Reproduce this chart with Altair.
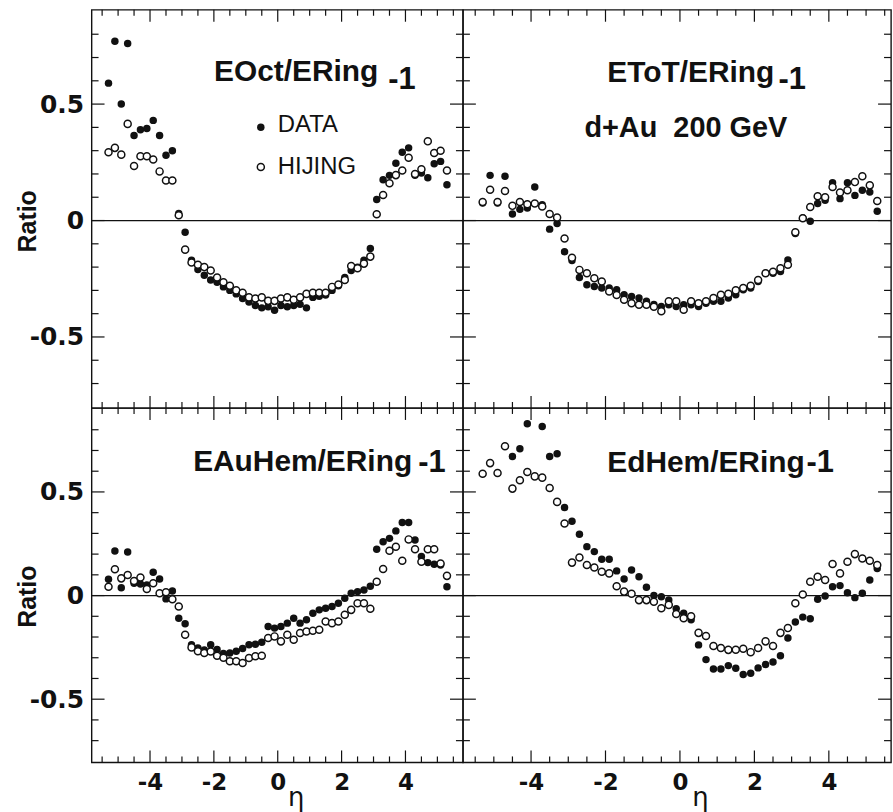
import altair as alt
import pandas as pd

# Pseudorapidity bin centres shared by all four ratio panels
ETA = [-5.3, -5.1, -4.9, -4.7, -4.5, -4.3, -4.1, -3.9, -3.7, -3.5, -3.3, -3.1, -2.9,
       -2.7, -2.5, -2.3, -2.1, -1.9, -1.7, -1.5, -1.3, -1.1, -0.9, -0.7, -0.5, -0.3, -0.1,
       0.1, 0.3, 0.5, 0.7, 0.9, 1.1, 1.3, 1.5, 1.7, 1.9, 2.1, 2.3, 2.5, 2.7, 2.9,
       3.1, 3.3, 3.5, 3.7, 3.9, 4.1, 4.3, 4.5, 4.7, 4.9, 5.1, 5.3]

# EOct/ERing - 1
EOCT_DATA = [0.59, 0.77, 0.50, 0.76, 0.365, 0.39, 0.395, 0.43, 0.365, 0.28, 0.30, 0.03, -0.05,
             -0.17, -0.21, -0.235, -0.255, -0.265, -0.285, -0.30, -0.315, -0.335, -0.35, -0.365, -0.375, -0.37, -0.385,
             -0.365, -0.37, -0.365, -0.36, -0.375, -0.33, -0.325, -0.32, -0.30, -0.28, -0.245, -0.215, -0.20, -0.17, -0.12,
             0.09, 0.175, 0.194, 0.246, 0.293, 0.312, 0.194, 0.204, 0.184, 0.244, 0.254, 0.154]
EOCT_HIJING = [0.293, 0.312, 0.283, 0.415, 0.234, 0.276, 0.276, 0.262, 0.211, 0.172, 0.172, 0.023, -0.125,
               -0.18, -0.19, -0.20, -0.215, -0.245, -0.265, -0.28, -0.30, -0.31, -0.33, -0.335, -0.33, -0.345, -0.345,
               -0.335, -0.33, -0.34, -0.33, -0.315, -0.31, -0.31, -0.31, -0.285, -0.275, -0.255, -0.195, -0.205, -0.185, -0.155,
               0.027, 0.11, 0.16, 0.195, 0.215, 0.27, 0.20, 0.22, 0.34, 0.29, 0.30, 0.215]

# EToT/ERing - 1
ETOT_DATA = [0.075, 0.194, 0.075, 0.19, 0.028, 0.048, 0.054, 0.144, 0.068, -0.037, -0.013, -0.134, -0.172,
             -0.245, -0.276, -0.283, -0.29, -0.29, -0.297, -0.319, -0.326, -0.333, -0.347, -0.36, -0.369, -0.362, -0.369,
             -0.362, -0.362, -0.369, -0.355, -0.347, -0.347, -0.333, -0.319, -0.297, -0.29, -0.262, -0.226, -0.226, -0.219, -0.169,
             -0.056, 0.011, -0.003, 0.073, 0.087, 0.162, 0.094, 0.162, 0.108, 0.13, 0.122, 0.04]
ETOT_HIJING = [0.08, 0.132, 0.08, 0.127, 0.063, 0.08, 0.07, 0.073, 0.06, 0.028, 0.013, -0.077, -0.16,
               -0.212, -0.226, -0.248, -0.262, -0.305, -0.32, -0.34, -0.355, -0.362, -0.362, -0.37, -0.39, -0.347, -0.347,
               -0.383, -0.347, -0.355, -0.347, -0.333, -0.319, -0.315, -0.30, -0.29, -0.28, -0.255, -0.226, -0.22, -0.205, -0.19,
               -0.05, 0.01, 0.058, 0.104, 0.10, 0.144, 0.12, 0.13, 0.165, 0.19, 0.151, 0.084]

# EAuHem/ERing - 1
EAU_DATA = [0.079, 0.215, 0.038, 0.21, 0.059, 0.056, 0.051, 0.112, 0.08, -0.016, 0.022, -0.109, -0.136,
            -0.237, -0.253, -0.262, -0.237, -0.26, -0.28, -0.277, -0.269, -0.255, -0.237, -0.235, -0.225, -0.149, -0.157,
            -0.149, -0.133, -0.109, -0.133, -0.117, -0.085, -0.069, -0.061, -0.053, -0.037, -0.013, 0.011, 0.019, 0.027, 0.045,
            0.223, 0.26, 0.276, 0.312, 0.353, 0.353, 0.268, 0.188, 0.159, 0.151, 0.147, 0.043]
EAU_HIJING = [0.043, 0.127, 0.083, 0.099, 0.07, 0.087, 0.032, 0.059, 0.011, 0.016, -0.018, -0.053, -0.189,
              -0.25, -0.269, -0.277, -0.27, -0.29, -0.30, -0.317, -0.317, -0.325, -0.301, -0.293, -0.29, -0.205, -0.197,
              -0.221, -0.189, -0.213, -0.181, -0.173, -0.17, -0.165, -0.125, -0.133, -0.125, -0.093, -0.069, -0.037, -0.037, -0.064,
              0.067, 0.128, 0.216, 0.236, 0.168, 0.271, 0.223, 0.163, 0.223, 0.223, 0.155, 0.095]

# EdHem/ERing - 1 (None: point above the plotted range)
ED_DATA = [None, None, None, None, 0.671, 0.708, 0.829, None, 0.816, 0.671, 0.684, 0.425, 0.359,
           0.296, 0.236, 0.212, 0.175, 0.175, 0.119, 0.08, 0.123, 0.091, 0.04, 0.0, -0.006, -0.021, -0.063,
           -0.085, -0.117, -0.238, -0.309, -0.354, -0.354, -0.338, -0.351, -0.381, -0.375, -0.349, -0.333, -0.321, -0.29, -0.205,
           -0.128, -0.104, -0.112, -0.018, -0.002, 0.043, 0.048, 0.014, -0.01, 0.011, 0.075, 0.131]
ED_HIJING = [0.588, 0.639, 0.591, 0.72, 0.516, 0.556, 0.596, 0.575, 0.569, 0.519, 0.452, 0.348, 0.159,
             0.184, 0.147, 0.135, 0.115, 0.107, 0.045, 0.019, 0.009, -0.022, -0.022, -0.03, -0.061, -0.045, -0.089,
             -0.109, -0.10, -0.18, -0.195, -0.243, -0.253, -0.262, -0.261, -0.257, -0.273, -0.253, -0.221, -0.243, -0.18, -0.157,
             -0.037, 0.005, 0.067, 0.091, 0.075, 0.152, 0.107, 0.163, 0.20, 0.179, 0.168, 0.147]

# Axis ticks
X_MAJOR = [-4, -2, 0, 2, 4]
X_MINOR = [-5.5, -5, -4.5, -3.5, -3, -2.5, -1.5, -1, -0.5, 0.5, 1, 1.5, 2.5, 3, 3.5, 4.5, 5, 5.5]
Y_MAJOR = [-0.5, 0, 0.5]
Y_MINOR = [-0.7, -0.6, -0.4, -0.3, -0.2, -0.1, 0.1, 0.2, 0.3, 0.4, 0.6, 0.7, 0.8]

X_DOMAIN_LEFT = [-5.83, 5.8]
X_DOMAIN_RIGHT = [-5.83, 5.67]
Y_DOMAIN = [-0.805, 0.905]

LEFT_W, RIGHT_W = 373, 430
TOP_H, BOTTOM_H = 400, 356

INK = "#111111"
LABEL_FONT = "Liberation Sans"
TICK_FONT = "DejaVu Sans"

DOT_SIZE = 56
RING_SIZE = 50
RING_WIDTH = 1.5


def make_x_axis(eta_x):
    return alt.Axis(
        values=X_MAJOR,
        labelExpr="datum.value < 0 ? '-' + format(-datum.value, 'd') : format(datum.value, 'd')",
        ticks=False, tickSize=0, domain=False, grid=False,
        labelFont=TICK_FONT, labelFontWeight="bold", labelFontSize=23, labelColor=INK,
        labelBaseline="alphabetic", labelPadding=27,
        title="η", titleFont=TICK_FONT, titleFontWeight="normal", titleFontSize=26,
        titleColor=INK, titleX=eta_x, titleY=43, titleAlign="center",
        titleBaseline="alphabetic", titleAnchor="start",
    )


def make_y_axis(ratio_y):
    return alt.Axis(
        values=Y_MAJOR,
        labelExpr="datum.value == 0 ? '0' : (datum.value < 0 ? '-' + format(-datum.value, '.1f') : format(datum.value, '.1f'))",
        ticks=False, tickSize=0, domain=False, grid=False,
        labelFont=TICK_FONT, labelFontWeight="bold", labelFontSize=25, labelColor=INK,
        labelPadding=8, labelBaseline="middle",
        title="Ratio", titleFont=LABEL_FONT, titleFontWeight="bold", titleFontSize=25,
        titleColor=INK, titleX=-64, titleY=ratio_y, titleAngle=-90,
        titleAlign="center", titleBaseline="middle", titleAnchor="start",
    )


def text_layer(s, px, py, size, weight="bold", font=LABEL_FONT):
    return alt.Chart(pd.DataFrame({"s": [s]})).mark_text(
        align="left", baseline="alphabetic", font=font, fontSize=size,
        fontWeight=weight, color=INK,
    ).encode(text="s:N", x=alt.value(px), y=alt.value(py))


def panel(data_vals, hij_vals, width, height, xdom, show_x, show_y,
          eta_x=0, ratio_y=0, extras=()):
    xs = alt.Scale(domain=xdom, nice=False, zero=False)
    ys = alt.Scale(domain=Y_DOMAIN, nice=False, zero=False)
    xa = make_x_axis(eta_x) if show_x else None
    ya = make_y_axis(ratio_y) if show_y else None

    def X(field):
        return alt.X(field, type="quantitative", scale=xs, axis=xa)

    def Y(field):
        return alt.Y(field, type="quantitative", scale=ys, axis=ya)

    rule_style = dict(color=INK, strokeWidth=1.2)
    layers = [
        alt.Chart(pd.DataFrame({"z": [0.0]})).mark_rule(**rule_style).encode(y=Y("z"))
    ]
    # inward-pointing ticks on all four sides of the frame
    for vals, length in ((X_MAJOR, 12), (X_MINOR, 6)):
        d = pd.DataFrame({"t": vals})
        layers.append(alt.Chart(d).mark_rule(**rule_style).encode(
            x=X("t"), y=alt.value(0), y2=alt.value(length)))
        layers.append(alt.Chart(d).mark_rule(**rule_style).encode(
            x=X("t"), y=alt.value(height - length), y2=alt.value(height)))
    for vals, length in ((Y_MAJOR, 13), (Y_MINOR, 7)):
        d = pd.DataFrame({"t": vals})
        layers.append(alt.Chart(d).mark_rule(**rule_style).encode(
            y=Y("t"), x=alt.value(0), x2=alt.value(length)))
        layers.append(alt.Chart(d).mark_rule(**rule_style).encode(
            y=Y("t"), x=alt.value(width - length), x2=alt.value(width)))

    pts = pd.DataFrame({"eta": ETA, "data": data_vals, "hijing": hij_vals})
    layers.append(
        alt.Chart(pts.dropna(subset=["data"])).mark_circle(
            color=INK, size=DOT_SIZE, opacity=1, clip=True
        ).encode(x=X("eta"), y=Y("data"))
    )
    layers.append(
        alt.Chart(pts.dropna(subset=["hijing"])).mark_point(
            shape="circle", filled=True, fill="white", stroke=INK,
            strokeWidth=RING_WIDTH, size=RING_SIZE, opacity=1, clip=True
        ).encode(x=X("eta"), y=Y("hijing"))
    )
    layers.extend(extras)
    return alt.layer(*layers).properties(width=width, height=height)


# Legend drawn inside the first panel
legend = [
    alt.Chart(pd.DataFrame({"s": ["DATA"]})).mark_circle(color=INK, size=DOT_SIZE, opacity=1)
    .encode(x=alt.value(170), y=alt.value(118)),
    alt.Chart(pd.DataFrame({"s": ["HIJING"]})).mark_point(
        shape="circle", filled=True, fill="white", stroke=INK,
        strokeWidth=RING_WIDTH, size=RING_SIZE, opacity=1)
    .encode(x=alt.value(170), y=alt.value(158)),
    text_layer("DATA", 187, 123, 24, weight="normal"),
    text_layer("HIJING", 187, 165, 24, weight="normal"),
]

top_left = panel(
    EOCT_DATA, EOCT_HIJING, LEFT_W, TOP_H, X_DOMAIN_LEFT, False, True, ratio_y=212,
    extras=[text_layer("EOct/ERing", 123, 72, 30), text_layer("-1", 298, 80, 31)] + legend,
)
top_right = panel(
    ETOT_DATA, ETOT_HIJING, RIGHT_W, TOP_H, X_DOMAIN_RIGHT, False, False,
    extras=[text_layer("EToT/ERing", 145, 73, 30), text_layer("-1", 317, 80, 31),
            text_layer("d+Au\u00a0\u00a0200 GeV", 122, 128, 29)],
)
bottom_left = panel(
    EAU_DATA, EAU_HIJING, LEFT_W, BOTTOM_H, X_DOMAIN_LEFT, True, True,
    eta_x=205, ratio_y=189,
    extras=[text_layer("EAuHem/ERing", 102, 63, 30), text_layer("-1", 328, 64, 31)],
)
bottom_right = panel(
    ED_DATA, ED_HIJING, RIGHT_W, BOTTOM_H, X_DOMAIN_RIGHT, True, False,
    eta_x=238,
    extras=[text_layer("EdHem/ERing", 145, 64, 30), text_layer("-1", 345, 64, 31)],
)

chart = (
    alt.concat(top_left, top_right, bottom_left, bottom_right,
               columns=2, spacing=0, bounds="flush")
    .configure_view(stroke=INK, strokeWidth=1.4)
    .properties(background="white",
                padding={"left": 15, "top": 6, "right": 0, "bottom": 0})
)

chart.save("out.html", embed_options={"renderer": "svg", "actions": False})
